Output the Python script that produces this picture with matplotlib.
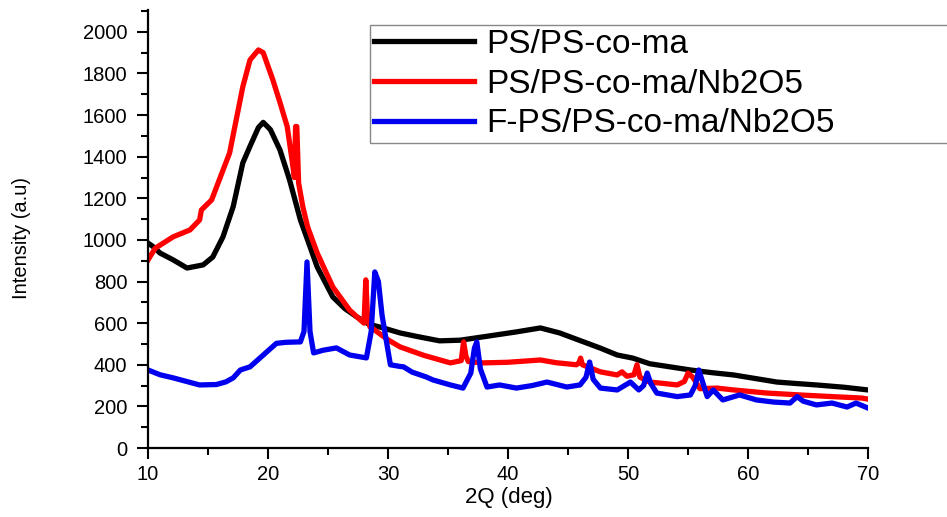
import matplotlib.pyplot as plt
from matplotlib.ticker import MultipleLocator

plt.rcParams["font.family"] = ["Liberation Sans", "DejaVu Sans"]

# PS/PS-co-ma
x_black = [10, 10.5, 11, 12.1, 13.25, 14.6, 15.4, 16.25, 17.1, 17.9, 18.5, 19.2, 19.6,
           20.2, 21, 21.8, 22.7, 23.3, 24.1, 25.4, 26.4, 27.4, 28, 28.4, 29.6, 31,
           32.5, 34.3, 36, 37.9, 40.7, 42.7, 44.3, 46.3, 47.7, 49.1, 50.4, 51.8, 53.5,
           55.2, 57, 58.8, 60.5, 62.4, 64, 65.7, 68, 70]
y_black = [985, 965, 937, 904, 865, 880, 918, 1015, 1160, 1370, 1450, 1540, 1565,
           1530, 1432, 1288, 1096, 1000, 870, 726, 670, 630, 610, 595, 577, 553,
           535, 515, 518, 534, 558, 577, 553, 510, 480, 447, 432, 405, 390,
           375, 362, 351, 335, 317, 310, 303, 292, 279]

# PS/PS-co-ma/Nb2O5
x_red = [10, 10.6, 12.1, 13.5, 14.3, 14.45, 15.3, 16.8, 17.9, 18.5, 19.2, 19.6, 20.4,
         21, 21.6, 22.0, 22.2, 22.3, 22.4, 22.55, 22.9, 23.3, 24.1, 25.4, 26.8,
         27.7, 28.0, 28.15, 28.3, 28.5, 28.7, 30, 31, 33, 35.2, 36.1, 36.3, 36.5, 36.7,
         37.9, 40, 42.7, 44, 45.7, 45.9, 46.05, 46.2, 47.7, 49.1, 49.5, 49.9, 50.5,
         50.75, 51.0, 51.8, 53, 54.1, 54.7, 55, 55.4, 56, 57.4, 58.8, 61.6, 64.3, 67,
         69.5, 70]
y_red = [904, 960, 1015, 1048, 1096, 1144, 1192, 1418, 1736, 1865, 1913, 1900, 1770,
         1660, 1545, 1385, 1300, 1545, 1545, 1274, 1160, 1063, 937, 774, 663,
         615, 600, 808, 620, 582, 575, 520, 486, 445, 409, 420, 510, 440, 415,
         409, 412, 423, 410, 400, 408, 432, 400, 366, 351, 366, 345, 352,
         400, 340, 317, 310, 303, 320, 360, 340, 285, 288, 279, 264, 255, 247,
         240, 235]

# F-PS/PS-co-ma/Nb2O5
x_blue = [10, 11, 12.1, 13.2, 14.3, 15.7, 16.5, 17.1, 17.7, 18.5, 19.9, 20.7, 21.5, 22.7,
          23.0, 23.25, 23.5, 23.8, 24.6, 25.7, 26.8, 28.2, 28.6, 28.9, 29.2, 29.5, 29.75,
          30.2, 31.0, 31.3, 32, 33.2, 33.75, 35.2, 36.25, 36.9, 37.2, 37.4, 37.7, 38.25,
          39.3, 40.7, 42, 43.25, 44.9, 46, 46.5, 46.8, 47.1, 47.7, 49.1, 50.2, 50.9,
          51.3, 51.6, 51.9, 52.4, 54.1, 55.2, 55.6, 55.9, 56.2, 56.6, 57.1, 57.9, 59.3,
          60.7, 62.1, 63.5, 64.1, 64.6, 65.7, 67, 68.25, 69, 70]
y_blue = [375, 352, 337, 320, 303, 305, 318, 337, 375, 390, 462, 503, 508, 510,
          560, 894, 560, 457, 470, 481, 447, 433, 560, 846, 800, 640, 553,
          400, 392, 390, 365, 341, 327, 303, 288, 360, 480, 510, 380, 293,
          303, 288, 300, 317, 293, 303, 340, 413, 330, 288, 279, 317, 279,
          300, 360, 310, 264, 247, 255, 300, 375, 320, 247, 279, 231, 255,
          231, 221, 216, 247, 225, 207, 216, 197, 216, 192]

fig = plt.figure(figsize=(9.47, 5.17), dpi=100)
ax = fig.add_axes([148 / 947, 69 / 517, 720 / 947, 438 / 517])

ax.plot(x_black, y_black, color="black", lw=3.8, label="PS/PS-co-ma", solid_joinstyle="round")
ax.plot(x_red, y_red, color="#ff0000", lw=3.8, label="PS/PS-co-ma/Nb2O5", solid_joinstyle="round")
ax.plot(x_blue, y_blue, color="#0000ee", lw=3.8, label="F-PS/PS-co-ma/Nb2O5", solid_joinstyle="round")

ax.set_xlim(10, 70)
ax.set_ylim(0, 2105)
ax.xaxis.set_major_locator(MultipleLocator(10))
ax.xaxis.set_minor_locator(MultipleLocator(5))
ax.set_yticks([0, 200, 400, 600, 800, 1000, 1200, 1400, 1600, 1800, 2000])
ax.yaxis.set_minor_locator(MultipleLocator(100))

for side in ["top", "right"]:
    ax.spines[side].set_visible(False)
for side in ["left", "bottom"]:
    ax.spines[side].set_linewidth(1.6)

ax.tick_params(which="major", direction="out", length=8, width=1.5, labelsize=14.5)
ax.tick_params(axis="y", which="major", pad=7)
ax.tick_params(axis="x", which="major", pad=4)
ax.tick_params(which="minor", direction="out", length=5, width=1.5)

ax.set_xlabel("2Q (deg)", fontsize=16)
ax.xaxis.set_label_coords(0.501, -0.089)
ax.set_ylabel("Intensity (a.u)", fontsize=14.5)
ax.yaxis.set_label_coords(-0.1625, 0.48)

leg = ax.legend(loc="upper left", bbox_to_anchor=(370 / 947, 1 - 25 / 517, 0.62, 0.0),
                bbox_transform=fig.transFigure, mode="expand", fontsize=24,
                handlelength=3.0, handletextpad=0.36, labelspacing=0.26,
                borderpad=0.12, borderaxespad=0, fancybox=False, framealpha=1)
leg.get_frame().set_edgecolor("#888888")
leg.get_frame().set_linewidth(1.0)

fig.savefig("out.png", dpi=100)
